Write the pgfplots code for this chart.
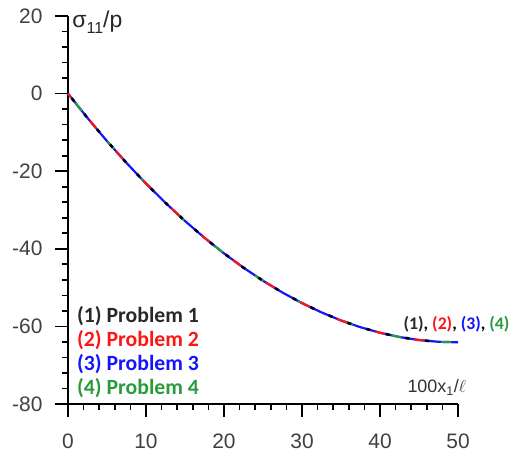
\documentclass[border=0pt]{standalone}
\usepackage{fontspec}
\setmainfont{Liberation Sans}
\newfontfamily\calibri{Carlito}
\usepackage{pgfplots}
\pgfplotsset{compat=1.18}
\definecolor{cblk}{RGB}{40,40,40}
\definecolor{cred}{RGB}{255,20,20}
\definecolor{cblue}{RGB}{20,20,255}
\definecolor{cgreen}{RGB}{40,155,60}
\begin{document}
\begin{tikzpicture}[x=1bp,y=1bp]
\useasboundingbox (-68,-50) rectangle (443,404);
\begin{axis}[
  at={(0,0)}, anchor=south west,
  scale only axis, width=390bp, height=388bp,
  xmin=0, xmax=50, ymin=-80, ymax=20,
  axis lines=left,
  axis line style={-, line width=1.7bp, black},
  every tick/.style={line width=1.7bp, black},
  tick align=outside,
  major tick length=13bp, minor tick length=6bp,
  xtick={0,10,...,50}, ytick={-80,-60,...,20},
  minor x tick num=4, minor y tick num=4,
  /pgf/number format/assume math mode=true,
  tick label style={font=\fontsize{21}{21}\selectfont, text=black!75},
  yticklabel style={xshift=-9bp},
  xticklabel style={yshift=-13bp},
  clip=false,
  legend cell align=left,
  legend image code/.code={},
  legend style={at={(axis cs:0.9,-54.2)}, anchor=north west, draw=none, fill=none,
    font=\calibri\bfseries\fontsize{21.8}{21.8}\selectfont, row sep=2.5bp, inner sep=0pt},
]
\addplot[cblue, line width=2.2bp] coordinates {
(0,0) (2.5,-6.28) (5,-12.24) (7.5,-17.87) (10,-23.18) (12.5,-28.16) (15,-32.83)
(17.5,-37.17) (20,-41.18) (22.5,-44.87) (25,-48.24) (27.5,-51.28) (30,-54.00)
(32.5,-56.39) (35,-58.47) (37.5,-60.22) (40,-61.64) (42.5,-62.74) (45,-63.52)
(47.5,-63.97) (50,-64.10)};
\addplot[cgreen, line width=2.2bp, dash pattern=on 10bp off 40bp, dash phase=-12bp] coordinates {
(0,0) (2.5,-6.28) (5,-12.24) (7.5,-17.87) (10,-23.18) (12.5,-28.16) (15,-32.83)
(17.5,-37.17) (20,-41.18) (22.5,-44.87) (25,-48.24) (27.5,-51.28) (30,-54.00)
(32.5,-56.39) (35,-58.47) (37.5,-60.22) (40,-61.64) (42.5,-62.74) (45,-63.52)
(47.5,-63.97) (50,-64.10)};
\addplot[cred, line width=2.2bp, dash pattern=on 10bp off 30bp, dash phase=5bp] coordinates {
(0,0) (2.5,-6.28) (5,-12.24) (7.5,-17.87) (10,-23.18) (12.5,-28.16) (15,-32.83)
(17.5,-37.17) (20,-41.18) (22.5,-44.87) (25,-48.24) (27.5,-51.28) (30,-54.00)
(32.5,-56.39) (35,-58.47) (37.5,-60.22) (40,-61.64) (42.5,-62.74) (45,-63.52)
(47.5,-63.97) (47.9,-64.0)};
\addplot[black, line width=2.6bp, dash pattern=on 4bp off 16bp, dash phase=-6bp] coordinates {
(0,0) (2.5,-6.28) (5,-12.24) (7.5,-17.87) (10,-23.18) (12.5,-28.16) (15,-32.83)
(17.5,-37.17) (20,-41.18) (22.5,-44.87) (25,-48.24) (27.5,-51.28) (30,-54.00)
(32.5,-56.39) (35,-58.47) (37.5,-60.22) (40,-61.64) (42.5,-62.74) (45,-63.52)
(47.5,-63.97) (48,-64.0)};
\legend{\textcolor{cblk}{(1) Problem 1},\textcolor{cred}{(2) Problem 2},\textcolor{cblue}{(3) Problem 3},\textcolor{cgreen}{(4) Problem 4}}
\node[anchor=base west, inner sep=0pt, text=black!85, font=\fontsize{23}{23}\selectfont] at (axis cs:0.55,17.0) {σ\raisebox{-0.25em}{\fontsize{16}{16}\selectfont 11}/p};
\node[anchor=base west, inner sep=0pt, text=black!80, font=\fontsize{18}{18}\selectfont] at (axis cs:43.5,-77.1) {100x\textsubscript{1}/$\ell$};
\node[anchor=base west, inner sep=0pt, font=\calibri\bfseries\fontsize{17.8}{17.8}\selectfont] at (axis cs:43.0,-60.8) {\textcolor{cblk}{(1)}, \textcolor{cred}{(2)}, \textcolor{cblue}{(3)}, \textcolor{cgreen}{(4)}};
\end{axis}
\end{tikzpicture}
\end{document}
